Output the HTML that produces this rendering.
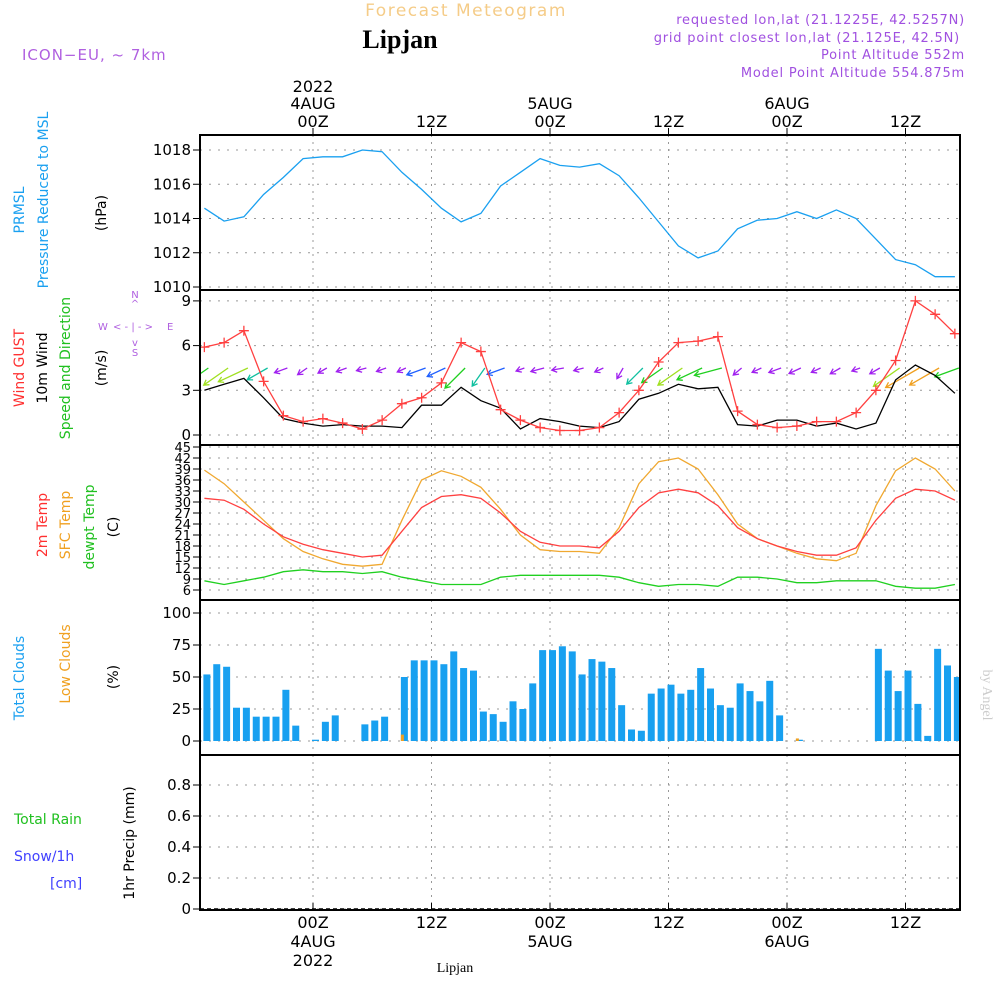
<!DOCTYPE html>
<html><head><meta charset="utf-8"><style>
body{margin:0;background:#fff;width:1000px;height:1000px;overflow:hidden}
svg{display:block}
text{font-family:"DejaVu Sans","Liberation Sans",sans-serif}
</style></head><body>
<svg id="chart" width="1000" height="1000" viewBox="0 0 1000 1000" xmlns="http://www.w3.org/2000/svg">
<g>
<text x="466" y="16" font-size="17" fill="#f5cc88" text-anchor="middle" letter-spacing="1.5">Forecast Meteogram</text>
<text x="400" y="48" font-size="26" font-weight="bold" fill="#000" text-anchor="middle" style="font-family:'Liberation Serif',serif">Lipjan</text>
<text x="22" y="60" font-size="15" fill="#b060e0" letter-spacing="1">ICON−EU, ~ 7km</text>
<text x="965" y="24" font-size="13" fill="#a050e0" text-anchor="end" letter-spacing="0.8">requested lon,lat (21.1225E, 42.5257N)</text>
<text x="960" y="42" font-size="13" fill="#a050e0" text-anchor="end" letter-spacing="0.8">grid point closest lon,lat (21.125E, 42.5N)</text>
<text x="965" y="59" font-size="13" fill="#a050e0" text-anchor="end" letter-spacing="0.8">Point Altitude 552m</text>
<text x="965" y="77" font-size="13" fill="#a050e0" text-anchor="end" letter-spacing="0.8">Model Point Altitude 554.875m</text>
</g>
<g font-size="14">
<text transform="translate(24,210) rotate(-90)" text-anchor="middle" fill="#1aa0f0">PRMSL</text>
<text transform="translate(48,200) rotate(-90)" text-anchor="middle" fill="#1aa0f0">Pressure Reduced to MSL</text>
<text transform="translate(106,213) rotate(-90)" text-anchor="middle" fill="#000">(hPa)</text>
<text transform="translate(24,368) rotate(-90)" text-anchor="middle" fill="#ff3030">Wind GUST</text>
<text transform="translate(47,368) rotate(-90)" text-anchor="middle" fill="#000">10m Wind</text>
<text transform="translate(70,368) rotate(-90)" text-anchor="middle" fill="#20c020">Speed and Direction</text>
<text transform="translate(106,368) rotate(-90)" text-anchor="middle" fill="#000">(m/s)</text>
<g fill="#b060e0" font-size="10">
<text x="135" y="298" text-anchor="middle">N</text><text x="135" y="307" text-anchor="middle">^</text>
<text x="98" y="330">W</text><text x="113" y="330">&lt; - | - &gt;</text><text x="167" y="330">E</text>
<text x="135" y="346" text-anchor="middle">v</text><text x="135" y="356" text-anchor="middle">S</text>
</g>
<text transform="translate(47,525) rotate(-90)" text-anchor="middle" fill="#ff3030">2m Temp</text>
<text transform="translate(70,525) rotate(-90)" text-anchor="middle" fill="#f0a020">SFC Temp</text>
<text transform="translate(94,527) rotate(-90)" text-anchor="middle" fill="#20c020">dewpt Temp</text>
<text transform="translate(118,527) rotate(-90)" text-anchor="middle" fill="#000">(C)</text>
<text transform="translate(24,678) rotate(-90)" text-anchor="middle" fill="#1aa0f0">Total Clouds</text>
<text transform="translate(70,664) rotate(-90)" text-anchor="middle" fill="#f0a020">Low Clouds</text>
<text transform="translate(118,677) rotate(-90)" text-anchor="middle" fill="#000">(%)</text>
<text x="14" y="824" fill="#20c020">Total  Rain</text>
<text x="14" y="861" fill="#4040ff">Snow/1h</text>
<text x="50" y="888" fill="#4040ff">[cm]</text>
<text transform="translate(134,843) rotate(-90)" text-anchor="middle" fill="#000">1hr Precip (mm)</text>
<text transform="translate(983,695) rotate(90)" text-anchor="middle" fill="#ccc" font-size="14" style="font-family:'Liberation Serif',serif">by Angel</text>
<text x="455" y="972" font-size="14" text-anchor="middle" style="font-family:'Liberation Serif',serif">Lipjan</text>
</g>
<g id="plot"></g>
</svg>
<script>
const hours=[-11,-9,-7,-5,-3,-1,1,3,5,7,9,11,13,15,17,19,21,23,25,27,29,31,33,35,37,39,41,43,45,47,49,51,53,55,57,59,61,63,65];
const pressure=[1014.6,1013.85,1014.1,1015.4,1016.4,1017.5,1017.6,1017.6,1018.0,1017.9,1016.7,1015.7,1014.6,1013.8,1014.3,1015.9,1016.7,1017.5,1017.1,1017.0,1017.2,1016.5,1015.2,1013.8,1012.4,1011.7,1012.1,1013.4,1013.9,1014.0,1014.4,1014.0,1014.5,1014.0,1012.8,1011.6,1011.3,1010.6,1010.6];
const gust=[5.9,6.2,7.0,3.6,1.3,0.9,1.1,0.8,0.4,1.0,2.1,2.5,3.5,6.2,5.6,1.7,1.0,0.5,0.3,0.3,0.5,1.5,3.0,4.9,6.2,6.3,6.6,1.6,0.7,0.5,0.6,0.9,0.9,1.5,3.0,5.0,9.0,8.1,6.8];
const wind10=[3.0,3.4,3.8,2.5,1.1,0.8,0.6,0.7,0.6,0.6,0.5,2.0,2.0,3.2,2.3,1.8,0.4,1.1,0.9,0.6,0.5,0.9,2.4,2.8,3.4,3.1,3.2,0.7,0.6,1.0,1.0,0.6,0.8,0.4,0.8,3.7,4.7,4.0,2.8];
const windDir=[215,215,205,210,200,215,210,200,195,200,205,200,205,225,235,200,200,195,190,195,205,240,225,215,215,205,195,220,205,200,205,205,210,200,210,215,210,210,200];
const sfcTemp=[38.7,35,30,25,20,16.5,14.5,13,12.5,13,25,36,38.5,37,34,28,21,17,16.5,16.5,16,23,35,41,42,39,32,24,20,18,16,14.5,14,16,29,38.5,42,39,33];
const t2m=[31,30.5,28,24,20.5,18.5,17,16,15,15.5,22,28.5,31.5,32,31,27,22,19,18,18,17.5,22,28.5,32.5,33.5,32.5,29,23,20,18,16.5,15.5,15.5,17.5,25,31,33.5,33,30.5];
const dewpt=[8.5,7.5,8.5,9.5,11,11.5,11,11,10.5,11,9.5,8.5,7.5,7.5,7.5,9.5,10,10,10,10,10,9.5,8,7,7.5,7.5,7,9.5,9.5,9,8,8,8.5,8.5,8.5,7,6.5,6.5,7.5];
const cloudStart=-12;
const totalClouds=[47,52,60,58,26,26,19,19,19,40,12,0,1,15,20,0,0,13,16,19,0,50,63,63,63,60,70,57,55,23,21,15,31,25,45,71,71,74,70,52,64,62,57,28,9,8,37,41,44,37,40,57,41,28,26,45,39,31,47,20,0,1,0,0,0,0,0,0,0,72,55,39,55,29,4,72,59,50];
const lowClouds=[18,0,0,0,0,0,0,0,0,0,0,0,0,0,0,0,0,0,0,0,0,5,0,0,0,0,0,0,0,0,0,0,0,0,0,0,0,0,0,0,0,0,0,0,0,0,0,0,0,0,0,0,0,0,0,0,0,0,0,0,0,2,0,0,0,0,0,0,0,0,0,0,0,0,0,0,0,0];
const pTicks=[1010,1012,1014,1016,1018];
const wTicks=[0,3,6,9];
const tTicks=[6,9,12,15,18,21,24,27,30,33,36,39,42,45];
const cTicks=[0,25,50,75,100];
const rTicks=[0,0.2,0.4,0.6,0.8];
const timeTicks=[0,12,24,36,48,60];
const timeLabels=["00Z","12Z","00Z","12Z","00Z","12Z"];
const dayLabels=["4AUG","","5AUG","","6AUG",""];

const NS="http://www.w3.org/2000/svg";
const plot=document.getElementById('plot');
const X0=200,X1=960;
const xs=h=>313+9.875*h;
const panels=[
 {top:135,bot:290,yf:v=>150+(1018-v)*17.125},
 {top:290,bot:445,yf:v=>435-v*14.9},
 {top:445,bot:600,yf:v=>447+(45-v)*3.667},
 {top:600,bot:755,yf:v=>741-v*1.28},
 {top:755,bot:910,yf:v=>909-v*155}
];
function mk(tag,attrs,parent){const e=document.createElementNS(NS,tag);for(const k in attrs)e.setAttribute(k,attrs[k]);(parent||plot).appendChild(e);return e;}
function clip(id,p){const c=mk('clipPath',{id:id});mk('rect',{x:X0,y:p.top,width:X1-X0,height:p.bot-p.top},c);}
panels.forEach((p,i)=>clip('c'+i,p));
function grid(p,ticks,name,fs){
 const g=mk('g',{});
 
 
 ticks.forEach(v=>{const y=p.yf(v);
  mk('line',{x1:X0,x2:X1,y1:y,y2:y,stroke:'#999','stroke-dasharray':'2,7'},g);
  mk('line',{x1:X0-7,x2:X0,y1:y,y2:y,stroke:'#000'},g);
  const t=mk('text',{x:X0-9,y:y+5,'font-size':fs||15,'text-anchor':'end'},g);t.textContent=v;});
 timeTicks.forEach(h=>{mk('line',{x1:xs(h),x2:xs(h),y1:p.top,y2:p.bot,stroke:'#999','stroke-dasharray':'2,5'},g);});
}
function line(vals,p,ci,color,name,w){
 const d=vals.map((v,i)=>(i?'L':'M')+xs(hours[i]).toFixed(1)+','+p.yf(v).toFixed(1)).join('');
 const e=mk('path',{d:d,fill:'none',stroke:color,'stroke-width':w||1.3,'clip-path':'url(#c'+ci+')'});
 
 
 return e;
}
grid(panels[0],pTicks,'pressure');
grid(panels[1],wTicks,'wind');
grid(panels[2],tTicks,'temp',13);
grid(panels[3],cTicks,'cloud');
grid(panels[4],rTicks,'precip');
line(pressure,panels[0],0,'#1aa0f0','pressure-line');
const wg=mk('g',{'clip-path':'url(#c1)'});


function wcol(s){return s<1.5?'#a020f0':s<2.2?'#2060ff':s<2.7?'#10c0a0':s<3.3?'#20d020':s<3.9?'#a0e020':'#f0a020';}
hours.forEach((h,i)=>{
 const s=wind10[i],a=windDir[i]*Math.PI/180,L=6+s*7;
 const x0=xs(h)+4,y0=368,dx=Math.cos(a)*L,dy=-Math.sin(a)*L;
 const x1=x0+dx,y1=y0+dy,c=wcol(s);
 const ux=dx/L,uy=dy/L;
 const ar=mk('path',{d:`M${x0},${y0}L${x1},${y1}M${x1-ux*5-uy*3},${y1-uy*5+ux*3}L${x1},${y1}L${x1-ux*5+uy*3},${y1-uy*5-ux*3}`,stroke:c,fill:'none','stroke-width':1.3},wg);
 
 
});
line(wind10,panels[1],1,'#000','wind10-line');
line(gust,panels[1],1,'#ff4040','gust-line');
const gm=mk('g',{'clip-path':'url(#c1)'});


gust.forEach((v,i)=>{const x=xs(hours[i]),y=panels[1].yf(v);
 const m=mk('path',{d:`M${x-5},${y}h10M${x},${y-5}v10`,stroke:'#ff4040','stroke-width':1.3},gm);
 
 });
line(dewpt,panels[2],2,'#20d020','dewpt-line');
line(sfcTemp,panels[2],2,'#f0a830','sfc-temp-line');
line(t2m,panels[2],2,'#ff4040','t2m-line');
const cg=mk('g',{'clip-path':'url(#c3)'});


totalClouds.forEach((v,i)=>{const h=cloudStart+i,x=xs(h)-1,p=panels[3];
 const r=mk('rect',{x:x,y:p.yf(v),width:7,height:Math.max(0,p.yf(0)-p.yf(v)),fill:'#18a0f0'},cg);
 
 
 if(lowClouds[i]>0){const l=mk('rect',{x:x,y:p.yf(lowClouds[i]),width:3,height:p.yf(0)-p.yf(lowClouds[i]),fill:'#f0a020'},cg);
  
  }
});
mk('line',{x1:X0,x2:X1,y1:909,y2:909,stroke:'#000','stroke-dasharray':'4,3','stroke-width':1.5});
panels.forEach((p,i)=>{const r=mk('rect',{x:X0,y:p.top,width:X1-X0,height:p.bot-p.top,fill:'none',stroke:'#000','stroke-width':2});
 
 });
const ta=mk('g',{'font-size':16,'text-anchor':'middle'});


timeTicks.forEach((h,i)=>{const x=xs(h);
 mk('line',{x1:x,x2:x,y1:128,y2:135,stroke:'#000'},ta);
 mk('line',{x1:x,x2:x,y1:910,y2:903,stroke:'#000'},ta);
 let t=mk('text',{x:x,y:127},ta);t.textContent=timeLabels[i];
 t=mk('text',{x:x,y:928},ta);t.textContent=timeLabels[i];
 if(dayLabels[i]){t=mk('text',{x:x,y:109},ta);t.textContent=dayLabels[i];
  t=mk('text',{x:x,y:947},ta);t.textContent=dayLabels[i];}
});
let t=mk('text',{x:xs(0),y:92},ta);t.textContent='2022';
t=mk('text',{x:xs(0),y:966},ta);t.textContent='2022';
</script>
</body></html>
